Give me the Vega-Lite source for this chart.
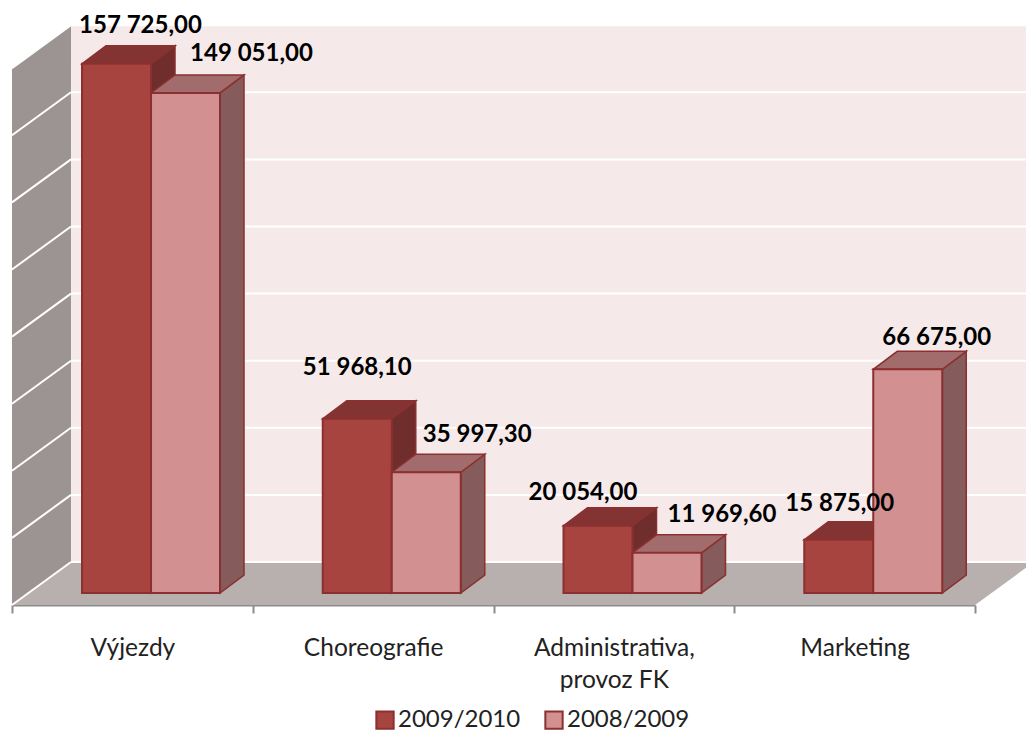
{
"$schema":"https://vega.github.io/schema/vega-lite/v6.json",
"autosize":"none","width":963,"height":605,
"padding":{"left":12,"top":0,"right":51,"bottom":126},
"background":"white",
"config":{"view":{"stroke":null},"font":"Lato","locale":{"number":{"decimal":",","thousands":" ","grouping":[3],"currency":["","Kč"]}}},
"datasets":{"bars":[
{"category":"Výjezdy","series":"2009/2010","value":157725.00},
{"category":"Výjezdy","series":"2008/2009","value":149051.00},
{"category":"Choreografie","series":"2009/2010","value":51968.10},
{"category":"Choreografie","series":"2008/2009","value":35997.30},
{"category":"Administrativa, provoz FK","series":"2009/2010","value":20054.00},
{"category":"Administrativa, provoz FK","series":"2008/2009","value":11969.60},
{"category":"Marketing","series":"2009/2010","value":15875.00},
{"category":"Marketing","series":"2008/2009","value":66675.00}
],
"ticks":[{"tick":0},{"tick":20000},{"tick":40000},{"tick":60000},{"tick":80000},{"tick":100000},{"tick":120000},{"tick":140000},{"tick":160000}]},
"encoding":{},
"layer":[
{"data":{"values":[{"plane":"back"}]},
 "mark":{"type":"rect","fill":"#F5E9E9"},
 "encoding":{
  "x":{"datum":0.245,"type":"quantitative","scale":{"domain":[0,4],"nice":false,"zero":false},
   "axis":{"title":null,"grid":false,"values":[0,0.5,1,1.5,2,2.5,3,3.5,4],
    "labelExpr":"datum.value==0.5?'Výjezdy':datum.value==1.5?'Choreografie':datum.value==2.5?['Administrativa,','provoz FK']:datum.value==3.5?'Marketing':''",
    "tickOpacity":{"condition":{"test":"datum.value%1==0","value":1},"value":0},
    "tickSize":8,"tickWidth":2,"tickColor":"#8C8C8C","domainColor":"#8C8C8C","domainWidth":2,
    "labelFont":"Lato","labelFontSize":24.5,"labelColor":"#222222","labelPadding":23,"labelBaseline":"top","labelLineHeight":32,"labelAngle":0,"labelOverlap":false,"labelFlush":false,"labelBound":false,"labelAlign":"center"}},
  "x2":{"datum":4.2118},
  "y":{"datum":169240,"type":"quantitative","scale":{"domain":[-3577,176751],"nice":false,"zero":false},"axis":null},
  "y2":{"datum":9240}
 }},
{"data":{"values":[{"edge":0},{"edge":1}]},
 "transform":[
  {"calculate":"datum.edge*0.245","as":"wx"},
  {"calculate":"156423+datum.edge*12817","as":"wy"},
  {"calculate":"-3577+datum.edge*12817","as":"wy2"}],
 "mark":{"type":"area","fill":"#9B9492","orient":"vertical"},
 "encoding":{
  "x":{"field":"wx","type":"quantitative"},
  "y":{"field":"wy","type":"quantitative","stack":null,"axis":null},
  "y2":{"field":"wy2"}}},
{"data":{"values":[{"corner":0},{"corner":1},{"corner":2},{"corner":3}]},
 "transform":[
  {"calculate":"datum.corner==0?0:datum.corner==1?0.245:datum.corner==2?4:4.245","as":"fx"},
  {"calculate":"datum.corner==3?9240:-3577","as":"fy"},
  {"calculate":"datum.corner==0?-3577:9240","as":"fy2"}],
 "mark":{"type":"area","fill":"#B8AFAF","orient":"vertical"},
 "encoding":{
  "x":{"field":"fx","type":"quantitative"},
  "y":{"field":"fy","type":"quantitative","stack":null,"axis":null},
  "y2":{"field":"fy2"}}},
{"data":{"name":"ticks"},
 "transform":[
  {"calculate":"datum.tick-3577","as":"ly"},
  {"calculate":"datum.tick+9240","as":"ry"}],
 "mark":{"type":"rule","color":"#FFFFFF","strokeWidth":2,"clip":false},
 "encoding":{
  "x":{"datum":0,"type":"quantitative"},
  "x2":{"datum":0.245},
  "y":{"field":"ly","type":"quantitative","axis":null},
  "y2":{"field":"ry"}}},
{"data":{"name":"ticks"},
 "transform":[{"calculate":"datum.tick+9240","as":"ry"}],
 "mark":{"type":"rule","color":"#FFFFFF","strokeWidth":2},
 "encoding":{
  "x":{"datum":0.245,"type":"quantitative"},
  "x2":{"datum":4.2118},
  "y":{"field":"ry","type":"quantitative","axis":null}}},
{"data":{"name":"bars"},
 "transform":[
  {"calculate":"indexof(['Výjezdy','Choreografie','Administrativa, provoz FK','Marketing'],datum.category)","as":"c"},
  {"calculate":"datum.series==='2009/2010'?0:1","as":"s"},
  {"calculate":"datum.c+0.2908+datum.s*0.2866","as":"x0"},
  {"calculate":"datum.x0+0.2866","as":"x1"},
  {"calculate":"[0,1,2,3]","as":"corner"},
  {"flatten":["corner"]},
  {"calculate":"datum.corner==0?datum.x0:datum.corner==1?datum.x0+0.0997:datum.corner==2?datum.x1:datum.x1+0.0997","as":"tx"},
  {"calculate":"datum.corner==3?datum.value+5365:datum.value","as":"ty"},
  {"calculate":"datum.corner==0?datum.value:datum.value+5365","as":"ty2"},
  {"calculate":"datum.x1+(datum.corner%2)*0.0997","as":"sx"},
  {"calculate":"datum.value+(datum.corner%2)*5365","as":"sy"},
  {"calculate":"(datum.corner%2)*5365","as":"sy2"},
  {"calculate":"datum.category+'|'+datum.series","as":"key"},
  {"calculate":"({'Výjezdy|2009/2010':[24,-38],'Výjezdy|2008/2009':[66,-39],'Choreografie|2009/2010':[0,-51],'Choreografie|2008/2009':[51,-37],'Administrativa, provoz FK|2009/2010':[-15,-33],'Administrativa, provoz FK|2008/2009':[55,-38],'Marketing|2009/2010':[1,-36],'Marketing|2008/2009':[29,-31]})[datum.key]","as":"shift"},
  {"calculate":"(datum.x0+datum.x1)/2+datum.shift[0]/240.75","as":"lx"},
  {"calculate":"datum.value-datum.shift[1]/0.003355","as":"ly"}
 ],
 "layer":[
  {"transform":[{"filter":"datum.s==0 && datum.corner<2"}],
   "mark":{"type":"area","fill":"#6F2D2B","stroke":"#8B3030","strokeWidth":1.5,"orient":"vertical"},
   "encoding":{"x":{"field":"sx","type":"quantitative"},"y":{"field":"sy","type":"quantitative","stack":null,"axis":null},"y2":{"field":"sy2"},"detail":{"field":"key"}}},
  {"transform":[{"filter":"datum.s==0"}],
   "mark":{"type":"area","fill":"#833331","stroke":"#8B3030","strokeWidth":1.5,"orient":"vertical"},
   "encoding":{"x":{"field":"tx","type":"quantitative"},"y":{"field":"ty","type":"quantitative","stack":null,"axis":null},"y2":{"field":"ty2"},"detail":{"field":"key"}}},
  {"transform":[{"filter":"datum.s==0 && datum.corner==0"}],
   "mark":{"type":"rect","stroke":"#8B3030","strokeWidth":2},
   "encoding":{"x":{"field":"x0","type":"quantitative"},"x2":{"field":"x1"},"y":{"field":"value","type":"quantitative","axis":null},"y2":{"datum":0},
    "color":{"field":"series","type":"nominal","scale":{"domain":["2009/2010","2008/2009"],"range":["#A84440","#D29090"]},
     "legend":{"title":null,"orient":"none","legendX":361,"legendY":708,"direction":"horizontal","symbolType":"square","symbolSize":300,"symbolStrokeColor":"#8B3030","symbolStrokeWidth":2,"labelFont":"Lato","labelFontSize":24,"labelColor":"#222222","columnPadding":20,"labelOffset":1,"labelLimit":300,"padding":0}}}},
  {"transform":[{"filter":"datum.s==1 && datum.corner<2"}],
   "mark":{"type":"area","fill":"#855B5B","stroke":"#8B3030","strokeWidth":1.5,"orient":"vertical"},
   "encoding":{"x":{"field":"sx","type":"quantitative"},"y":{"field":"sy","type":"quantitative","stack":null,"axis":null},"y2":{"field":"sy2"},"detail":{"field":"key"}}},
  {"transform":[{"filter":"datum.s==1"}],
   "mark":{"type":"area","fill":"#A26C6C","stroke":"#8B3030","strokeWidth":1.5,"orient":"vertical"},
   "encoding":{"x":{"field":"tx","type":"quantitative"},"y":{"field":"ty","type":"quantitative","stack":null,"axis":null},"y2":{"field":"ty2"},"detail":{"field":"key"}}},
  {"transform":[{"filter":"datum.s==1 && datum.corner==0"}],
   "mark":{"type":"rect","stroke":"#8B3030","strokeWidth":2},
   "encoding":{"x":{"field":"x0","type":"quantitative"},"x2":{"field":"x1"},"y":{"field":"value","type":"quantitative","axis":null},"y2":{"datum":0},
    "color":{"field":"series","type":"nominal"}}},
  {"transform":[{"filter":"datum.corner==0"}],
   "mark":{"type":"text","font":"Lato","fontSize":24,"fontWeight":"bold","color":"#000000","align":"center","baseline":"middle"},
   "encoding":{"x":{"field":"lx","type":"quantitative"},"y":{"field":"ly","type":"quantitative","axis":null},"text":{"field":"value","type":"quantitative","format":",.2f"}}}
 ]}
]
}
